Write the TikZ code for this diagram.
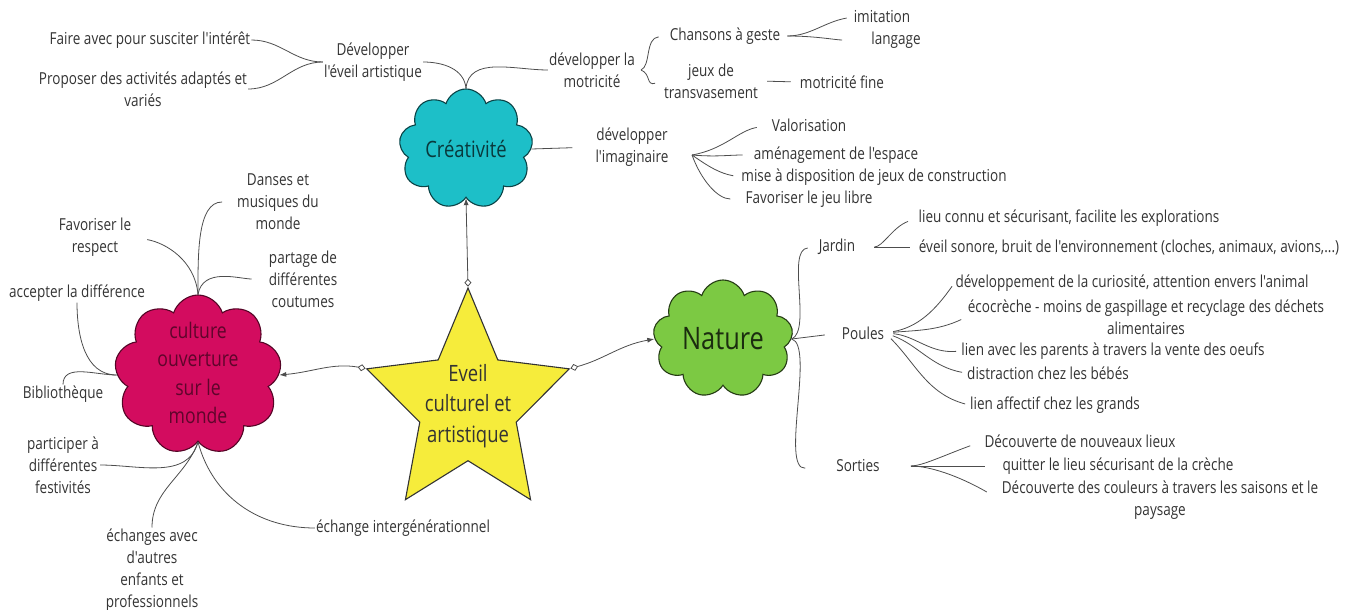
\documentclass[tikz,border=0pt]{standalone}
\usepackage{fontspec}
\setmainfont{Open Sans}[FakeStretch=0.82, Ligatures=TeXOff]
\usetikzlibrary{shapes.geometric,shapes.symbols,arrows.meta}

\definecolor{txt}{HTML}{333333}
\definecolor{ligne}{HTML}{4D4D4D}
\definecolor{cyanc}{HTML}{1DBFC8}
\definecolor{rosec}{HTML}{D30C5F}
\definecolor{vertc}{HTML}{7CC943}
\definecolor{jaunec}{HTML}{F6EC3B}

\tikzset{
  lbl/.style={align=center, text=txt, font=\fontsize{16.5}{22}\selectfont, inner sep=1pt},
  nuage/.style={cloud, cloud puffs=9, cloud puff arc=145, cloud ignores aspect, draw, line width=1.1pt, inner sep=0pt},
  etoile/.style={star, star points=5, star point ratio=2.1, minimum size=234pt, draw=black!80, fill=jaunec, line width=1.1pt, inner sep=0pt},
  branche/.style={draw=ligne, line width=0.8pt},
  fleche/.style={branche, arrows={Diamond[open,length=8pt,width=7pt]-Latex[length=7pt,width=5pt]}}
}

\begin{document}
\begin{tikzpicture}[x=1pt, y=1pt]

\useasboundingbox (0,0) rectangle (1347,-610);

% centre : etoile
\node[etoile, xscale=0.91] (eveil) at (468,-405) {};
\node[lbl, font=\fontsize{22.5}{30.5}\selectfont] (eveilT) at (468,-406) {Eveil\\culturel et\\artistique};

% les trois nuages
\node[nuage, fill=cyanc, draw=cyanc!35!black, minimum width=134pt, minimum height=120pt] (crea) at (466,-149) {};
\node[lbl, text=cyanc!30!black, font=\fontsize{22.5}{28}\selectfont] (creaT) at (crea) {Créativité};

\node[nuage, fill=rosec, draw=rosec!40!black, minimum width=167pt, minimum height=160pt] (cult) at (198,-375) {};
\node[lbl, text=rosec!45!black, font=\fontsize{21.5}{28.5}\selectfont] (cultT) at (198,-373) {culture\\ouverture\\sur le\\monde};

\node[nuage, fill=vertc, draw=vertc!30!black, minimum width=140pt, minimum height=118pt] (nat) at (723,-339) {};
\node[lbl, text=vertc!22!black, font=\fontsize{31}{36}\selectfont] (natT) at (nat) {Nature};

% fleches depuis l'etoile
\draw[fleche] (eveil.outer point 1) -- (crea.south);
\draw[fleche] (eveil.outer point 2) to[out=170,in=5] (cult.east);
\draw[fleche] (eveil.outer point 5) to[out=15,in=190] (nat.west);

% Creativite : textes
\node[lbl] (faire) at (150,-40) {Faire avec pour susciter l'intérêt};
\node[lbl] (propo) at (143,-89) {Proposer des activités adaptés et\\variés};
\node[lbl] (devart) at (373,-62) {Développer\\l'éveil artistique};
\node[lbl] (motri) at (592,-70) {développer la\\motricité};
\node[lbl] (chans) at (725,-36) {Chansons à geste};
\node[lbl] (jeux) at (711,-81) {jeux de\\transvasement};
\node[lbl] (imit) at (882,-17) {imitation};
\node[lbl] (lang) at (896,-40) {langage};
\node[lbl] (fine) at (842,-82) {motricité fine};
\node[lbl] (imag) at (632,-147) {développer\\l'imaginaire};
\node[lbl] (valo) at (809,-125) {Valorisation};
\node[lbl] (amen) at (836,-155) {aménagement de l'espace};
\node[lbl] (mise) at (874,-177) {mise à disposition de jeux de construction};
\node[lbl] (libre) at (809,-199) {Favoriser le jeu libre};

% Creativite : liens
\draw[branche] (crea.north) to[out=95,in=0] (devart.east);
\draw[branche] (crea.north) to[out=85,in=180] (motri.west);
\draw[branche] (devart.west) to[out=180,in=0] (faire.east);
\draw[branche] (devart.west) to[out=180,in=0] (propo.east);
\coordinate (motJ) at (641,-70);
\draw[branche, shorten >=10pt] (motJ) .. controls (651,-66) and (645,-38) .. (chans.west);
\draw[branche, shorten >=8pt] (motJ) .. controls (651,-74) and (646,-86) .. (jeux.west);
\draw[branche, shorten <=6pt, shorten >=6pt] (chans.east) to[out=0,in=190] (imit.west);
\draw[branche, shorten <=6pt, shorten >=28pt] (chans.east) to[out=0,in=180] (lang.west);
\draw[branche, shorten <=8pt, shorten >=8pt] (jeux.east) -- (fine.west);
\draw[branche, shorten >=22pt] (crea.east) -- (imag.west);
\coordinate (imJ) at (692,-155);
\draw[branche, shorten >=14pt] (imJ) to[out=10,in=190] (valo.west);
\draw[branche, shorten >=10pt] (imJ) to[out=-5,in=180] (amen.west);
\draw[branche, shorten >=7pt] (imJ) to[out=-35,in=170] (mise.west);
\draw[branche, shorten >=14pt] (imJ) to[out=-70,in=180] (libre.west);

% culture : textes
\node[lbl] (danses) at (278,-202) {Danses et\\musiques du\\monde};
\node[lbl] (respect) at (95,-237) {Favoriser le\\respect};
\node[lbl] (partage) at (303,-279) {partage de\\différentes\\coutumes};
\node[lbl] (accept) at (77,-293) {accepter la différence};
\node[lbl] (biblio) at (63,-394) {Bibliothèque};
\node[lbl] (festiv) at (63,-465) {participer à\\différentes\\festivités};
\node[lbl] (echang) at (152,-570) {échanges avec\\d'autres\\enfants et\\professionnels};
\node[lbl] (interg) at (403,-528) {échange intergénérationnel};

% culture : liens
\draw[branche, shorten >=14pt] (cult.north) to[out=90,in=180] (danses.west);
\draw[branche, shorten >=15pt] (cult.north) to[out=95,in=-10] (respect.east);
\draw[branche, shorten >=16pt] (cult.north) to[out=80,in=180] (partage.west);
\draw[branche] (accept.south) to[out=-90,in=180] (cult.west);
\draw[branche] (biblio.north) to[out=90,in=180] (cult.west);
\draw[branche] (cult.south) to[out=-105,in=0] (festiv.east);
\draw[branche] (cult.south) to[out=-110,in=90] (echang.north);
\draw[branche] (cult.south) to[out=-75,in=180] (interg.west);

% Nature : textes
\node[lbl] (jardin) at (837,-247) {Jardin};
\node[lbl] (poules) at (863,-333) {Poules};
\node[lbl] (sorties) at (858,-466) {Sorties};
\node[lbl] (lieu) at (1069,-218) {lieu connu et sécurisant, facilite les explorations};
\node[lbl] (sonore) at (1129,-247) {éveil sonore, bruit de l'environnement (cloches, animaux, avions,...)};
\node[lbl] (curio) at (1132,-283) {développement de la curiosité, attention envers l'animal};
\node[lbl] (ecocr) at (1146,-317) {écocrèche - moins de gaspillage et recyclage des déchets\\alimentaires};
\node[lbl] (parent) at (1113,-351) {lien avec les parents à travers la vente des oeufs};
\node[lbl] (bebes) at (1048,-373) {distraction chez les bébés};
\node[lbl] (grands) at (1055,-405) {lien affectif chez les grands};
\node[lbl] (lieux) at (1080,-441) {Découverte de nouveaux lieux};
\node[lbl] (quitter) at (1118,-466) {quitter le lieu sécurisant de la crèche};
\node[lbl] (saisons) at (1160,-500) {Découverte des couleurs à travers les saisons et le\\paysage};

% Nature : liens
\draw[branche, shorten >=16pt] (nat.east) -- (poules.west);
\draw[branche, shorten >=10pt] (nat.east) .. controls (812,-330) and (786,-250) .. (jardin.west);
\draw[branche, shorten >=30pt] (nat.east) .. controls (815,-345) and (780,-470) .. (sorties.west);
\draw[branche, shorten <=18pt, shorten >=10pt] (jardin.east) to[out=0,in=200] (lieu.west);
\draw[branche, shorten <=18pt, shorten >=8pt] (jardin.east) -- (sonore.west);
\draw[branche, shorten <=8pt, shorten >=4pt] (poules.east) to[out=10,in=235] (curio.west);
\draw[branche, shorten <=8pt, shorten >=6pt] (poules.east) to[out=5,in=205] (ecocr.west);
\draw[branche, shorten <=8pt, shorten >=4pt] (poules.east) to[out=-5,in=185] (parent.west);
\draw[branche, shorten <=8pt, shorten >=4pt] (poules.east) to[out=-20,in=170] (bebes.west);
\draw[branche, shorten <=8pt, shorten >=4pt] (poules.east) to[out=-45,in=165] (grands.west);
\draw[branche, shorten <=30pt, shorten >=14pt] (sorties.east) to[out=0,in=200] (lieux.west);
\draw[branche, shorten <=30pt, shorten >=16pt] (sorties.east) -- (quitter.west);
\draw[branche, shorten <=30pt, shorten >=16pt] (sorties.east) to[out=0,in=150] (saisons.west);

\end{tikzpicture}
\end{document}
